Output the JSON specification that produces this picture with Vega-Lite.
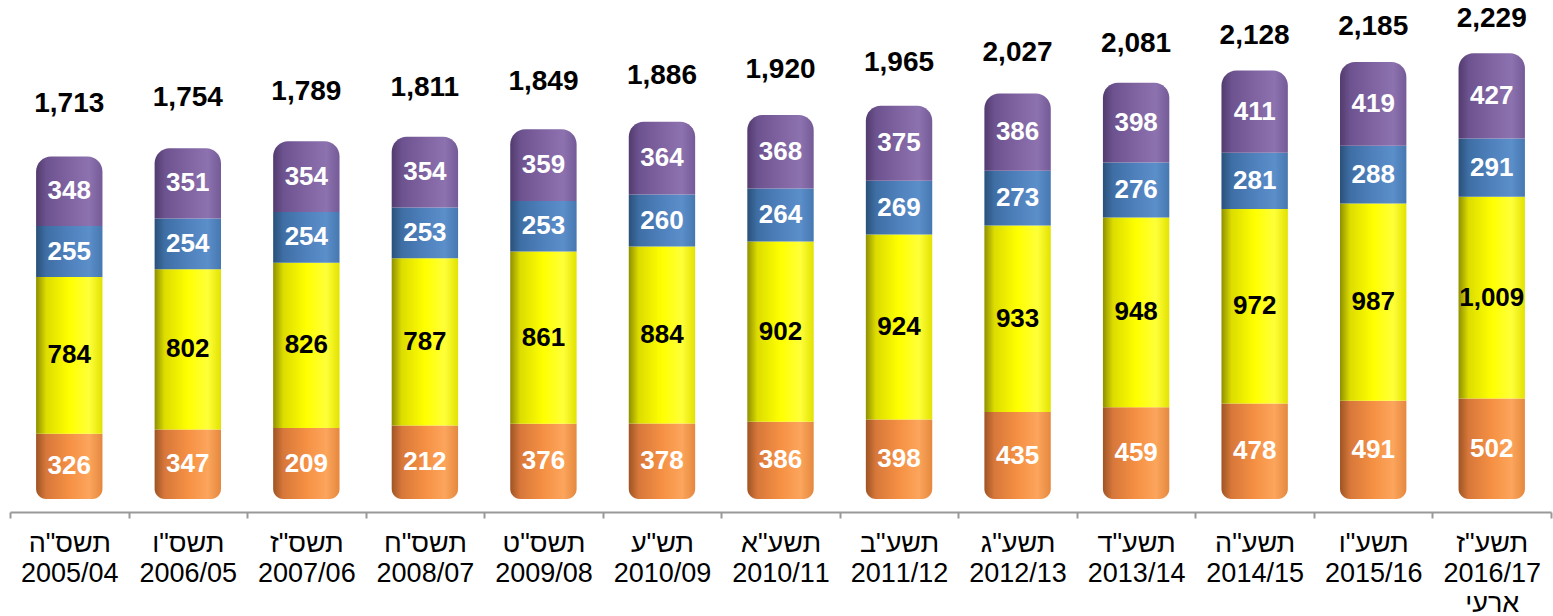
{
  "$schema": "https://vega.github.io/schema/vega-lite/v6.json",
  "width": 1541,
  "height": 499,
  "autosize": {"type": "none"},
  "padding": {"left": 10, "top": 0, "right": 2, "bottom": 117},
  "background": "white",
  "config": {"view": {"stroke": null}, "font": "Liberation Sans"},
  "datasets": {
    "seg": [
      {"cat": "תשס\"ה|2005/04", "series": "s1", "value": 326, "label": 326},
      {"cat": "תשס\"ה|2005/04", "series": "s2", "value": 784, "label": 784},
      {"cat": "תשס\"ה|2005/04", "series": "s3", "value": 255, "label": 255},
      {"cat": "תשס\"ה|2005/04", "series": "s4", "value": 348, "label": 348},
      {"cat": "תשס\"ו|2006/05", "series": "s1", "value": 347, "label": 347},
      {"cat": "תשס\"ו|2006/05", "series": "s2", "value": 802, "label": 802},
      {"cat": "תשס\"ו|2006/05", "series": "s3", "value": 254, "label": 254},
      {"cat": "תשס\"ו|2006/05", "series": "s4", "value": 351, "label": 351},
      {"cat": "תשס\"ז|2007/06", "series": "s1", "value": 355, "label": 209},
      {"cat": "תשס\"ז|2007/06", "series": "s2", "value": 826, "label": 826},
      {"cat": "תשס\"ז|2007/06", "series": "s3", "value": 254, "label": 254},
      {"cat": "תשס\"ז|2007/06", "series": "s4", "value": 354, "label": 354},
      {"cat": "תשס\"ח|2008/07", "series": "s1", "value": 367, "label": 212},
      {"cat": "תשס\"ח|2008/07", "series": "s2", "value": 837, "label": 787},
      {"cat": "תשס\"ח|2008/07", "series": "s3", "value": 253, "label": 253},
      {"cat": "תשס\"ח|2008/07", "series": "s4", "value": 354, "label": 354},
      {"cat": "תשס\"ט|2009/08", "series": "s1", "value": 376, "label": 376},
      {"cat": "תשס\"ט|2009/08", "series": "s2", "value": 861, "label": 861},
      {"cat": "תשס\"ט|2009/08", "series": "s3", "value": 253, "label": 253},
      {"cat": "תשס\"ט|2009/08", "series": "s4", "value": 359, "label": 359},
      {"cat": "תש\"ע|2010/09", "series": "s1", "value": 378, "label": 378},
      {"cat": "תש\"ע|2010/09", "series": "s2", "value": 884, "label": 884},
      {"cat": "תש\"ע|2010/09", "series": "s3", "value": 260, "label": 260},
      {"cat": "תש\"ע|2010/09", "series": "s4", "value": 364, "label": 364},
      {"cat": "תשע\"א|2010/11", "series": "s1", "value": 386, "label": 386},
      {"cat": "תשע\"א|2010/11", "series": "s2", "value": 902, "label": 902},
      {"cat": "תשע\"א|2010/11", "series": "s3", "value": 264, "label": 264},
      {"cat": "תשע\"א|2010/11", "series": "s4", "value": 368, "label": 368},
      {"cat": "תשע\"ב|2011/12", "series": "s1", "value": 398, "label": 398},
      {"cat": "תשע\"ב|2011/12", "series": "s2", "value": 924, "label": 924},
      {"cat": "תשע\"ב|2011/12", "series": "s3", "value": 269, "label": 269},
      {"cat": "תשע\"ב|2011/12", "series": "s4", "value": 375, "label": 375},
      {"cat": "תשע\"ג|2012/13", "series": "s1", "value": 435, "label": 435},
      {"cat": "תשע\"ג|2012/13", "series": "s2", "value": 933, "label": 933},
      {"cat": "תשע\"ג|2012/13", "series": "s3", "value": 273, "label": 273},
      {"cat": "תשע\"ג|2012/13", "series": "s4", "value": 386, "label": 386},
      {"cat": "תשע\"ד|2013/14", "series": "s1", "value": 459, "label": 459},
      {"cat": "תשע\"ד|2013/14", "series": "s2", "value": 948, "label": 948},
      {"cat": "תשע\"ד|2013/14", "series": "s3", "value": 276, "label": 276},
      {"cat": "תשע\"ד|2013/14", "series": "s4", "value": 398, "label": 398},
      {"cat": "תשע\"ה|2014/15", "series": "s1", "value": 478, "label": 478},
      {"cat": "תשע\"ה|2014/15", "series": "s2", "value": 972, "label": 972},
      {"cat": "תשע\"ה|2014/15", "series": "s3", "value": 281, "label": 281},
      {"cat": "תשע\"ה|2014/15", "series": "s4", "value": 411, "label": 411},
      {"cat": "תשע\"ו|2015/16", "series": "s1", "value": 491, "label": 491},
      {"cat": "תשע\"ו|2015/16", "series": "s2", "value": 987, "label": 987},
      {"cat": "תשע\"ו|2015/16", "series": "s3", "value": 288, "label": 288},
      {"cat": "תשע\"ו|2015/16", "series": "s4", "value": 419, "label": 419},
      {"cat": "תשע\"ז|2016/17|ארעי", "series": "s1", "value": 502, "label": 502},
      {"cat": "תשע\"ז|2016/17|ארעי", "series": "s2", "value": 1009, "label": 1009},
      {"cat": "תשע\"ז|2016/17|ארעי", "series": "s3", "value": 291, "label": 291},
      {"cat": "תשע\"ז|2016/17|ארעי", "series": "s4", "value": 427, "label": 427}
    ],
    "tot": [
      {"cat": "תשס\"ה|2005/04", "total": 1713},
      {"cat": "תשס\"ו|2006/05", "total": 1754},
      {"cat": "תשס\"ז|2007/06", "total": 1789},
      {"cat": "תשס\"ח|2008/07", "total": 1811},
      {"cat": "תשס\"ט|2009/08", "total": 1849},
      {"cat": "תש\"ע|2010/09", "total": 1886},
      {"cat": "תשע\"א|2010/11", "total": 1920},
      {"cat": "תשע\"ב|2011/12", "total": 1965},
      {"cat": "תשע\"ג|2012/13", "total": 2027},
      {"cat": "תשע\"ד|2013/14", "total": 2081},
      {"cat": "תשע\"ה|2014/15", "total": 2128},
      {"cat": "תשע\"ו|2015/16", "total": 2185},
      {"cat": "תשע\"ז|2016/17|ארעי", "total": 2229}
    ]
  },
  "resolve": {"scale": {"y": "independent"}},
  "encoding": {
    "x": {
      "field": "cat", "type": "nominal", "sort": null,
      "scale": {"paddingInner": 0, "paddingOuter": 0},
      "axis": {
        "title": null,
        "labelAngle": 0,
        "labelExpr": "split(datum.label, '|')",
        "labelFont": "Liberation Sans",
        "labelFontSize": 27,
        "labelLineHeight": 30,
        "labelColor": "#000000",
        "labelPadding": 12,
        "labelBaseline": "top",
        "tickBand": "extent",
        "tickColor": "#999999",
        "tickSize": 6,
        "tickWidth": 2,
        "domainColor": "#999999",
        "domainWidth": 2,
        "offset": 13,
        "labelOverlap": false,
        "labelFlush": false
      }
    }
  },
  "layer": [
    {
      "data": {"name": "seg"},
      "transform": [
        {"stack": "value", "groupby": ["cat"], "sort": [{"field": "series", "order": "ascending"}], "as": ["v0", "v1"]},
        {"calculate": "(datum.v0 + datum.v1) / 2", "as": "vm"}
      ],
      "layer": [
        {
          "transform": [{"filter": "datum.series === 's1'"}],
          "mark": {"type": "bar", "width": {"band": 0.56}, "cornerRadiusBottomLeft": 10, "cornerRadiusBottomRight": 10,
            "color": {"gradient": "linear", "x1": 0, "y1": 0, "x2": 1, "y2": 0, "stops": [
              {"offset": 0, "color": "#9e5424"}, {"offset": 0.15, "color": "#d7773a"}, {"offset": 0.5, "color": "#f59043"},
              {"offset": 0.8, "color": "#fca55c"}, {"offset": 1, "color": "#e5883f"}]}},
          "encoding": {
            "y": {"field": "v1", "type": "quantitative", "scale": {"domain": [0, 2495], "nice": false}, "axis": null},
            "y2": {"field": "v0"}
          }
        },
        {
          "transform": [{"filter": "datum.series === 's2'"}],
          "mark": {"type": "bar", "width": {"band": 0.56},
            "color": {"gradient": "linear", "x1": 0, "y1": 0, "x2": 1, "y2": 0, "stops": [
              {"offset": 0, "color": "#8f8f00"}, {"offset": 0.15, "color": "#dcdc00"}, {"offset": 0.5, "color": "#ffff00"},
              {"offset": 0.8, "color": "#ffff3a"}, {"offset": 1, "color": "#e2e200"}]}},
          "encoding": {"y": {"field": "v1", "type": "quantitative"}, "y2": {"field": "v0"}}
        },
        {
          "transform": [{"filter": "datum.series === 's3'"}],
          "mark": {"type": "bar", "width": {"band": 0.56},
            "color": {"gradient": "linear", "x1": 0, "y1": 0, "x2": 1, "y2": 0, "stops": [
              {"offset": 0, "color": "#2a5079"}, {"offset": 0.15, "color": "#3e6ea4"}, {"offset": 0.5, "color": "#4f81bd"},
              {"offset": 0.8, "color": "#5b8fca"}, {"offset": 1, "color": "#4677b0"}]}},
          "encoding": {"y": {"field": "v1", "type": "quantitative"}, "y2": {"field": "v0"}}
        },
        {
          "transform": [{"filter": "datum.series === 's4'"}],
          "mark": {"type": "bar", "width": {"band": 0.56}, "cornerRadiusTopLeft": 15, "cornerRadiusTopRight": 15,
            "color": {"gradient": "linear", "x1": 0, "y1": 0, "x2": 1, "y2": 0, "stops": [
              {"offset": 0, "color": "#523b6e"}, {"offset": 0.15, "color": "#6c528e"}, {"offset": 0.5, "color": "#8064a2"},
              {"offset": 0.8, "color": "#8c72ae"}, {"offset": 1, "color": "#745a96"}]}},
          "encoding": {"y": {"field": "v1", "type": "quantitative"}, "y2": {"field": "v0"}}
        },
        {
          "mark": {"type": "text", "font": "Liberation Sans", "fontWeight": "bold", "fontSize": 26, "baseline": "middle", "align": "center"},
          "encoding": {
            "y": {"field": "vm", "type": "quantitative"},
            "text": {"field": "label", "type": "quantitative", "format": ","},
            "color": {"condition": {"test": "datum.series === 's2'", "value": "#000000"}, "value": "#ffffff"}
          }
        }
      ]
    },
    {
      "data": {"name": "tot"},
      "mark": {"type": "text", "font": "Liberation Sans", "fontWeight": "bold", "fontSize": 28, "baseline": "middle", "align": "center", "color": "#000000"},
      "encoding": {
        "y": {"field": "total", "type": "quantitative", "scale": {"domain": [-686, 2347], "nice": false, "zero": false}, "axis": null},
        "text": {"field": "total", "type": "quantitative", "format": ","}
      }
    }
  ]
}
